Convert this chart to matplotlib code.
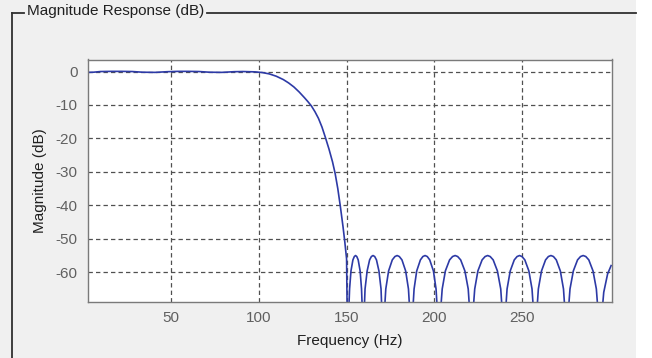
import matplotlib
matplotlib.use("Agg")
import matplotlib.pyplot as plt
from matplotlib.lines import Line2D
from matplotlib.patches import Rectangle

# Values (Hz, dB)
pass_f = [2.5, 6, 10, 16, 22, 28, 34, 41, 48, 54, 60, 66, 72, 79, 86, 91, 95]
pass_db = [-0.25, -0.2, 0.0, 0.05, 0.05, 0.0, -0.2, -0.25, -0.05, 0.05, 0.05, 0.0, -0.2, -0.25, -0.05, 0.0, -0.05]

trans_f = [98, 102, 106, 110, 114, 117, 120, 123, 126, 128, 130, 132, 134, 136, 138,
           140, 142, 143.5, 145, 146.5, 148, 149, 150, 150.8]
trans_db = [-0.1, -0.3, -0.7, -1.4, -2.4, -3.4, -4.6, -6.1, -7.8, -9.0, -10.3, -12.0, -14.0, -16.6, -19.8,
            -23.2, -27.0, -30.5, -35, -40.5, -46.5, -51, -56, -95]

stop_f = [
    151.2, 151.7, 152.5, 153.6, 154.4, 155.1, 155.8, 156.6, 157.7, 158.5, 159.0, 159.4,
    160.0, 160.5, 161.7, 163.1, 164.1, 165.05, 166.0, 167.0, 168.4, 169.6, 170.1, 170.7,
    171.5, 172.3, 173.9, 176.0, 177.5, 178.75, 180.0, 181.5, 183.6, 185.2, 186.0, 186.8,
    187.6, 188.4, 189.9, 192.0, 193.4, 194.65, 195.9, 197.3, 199.4, 200.9, 201.7, 202.5,
    203.4, 204.4, 206.2, 208.6, 210.3, 211.75, 213.2, 214.9, 217.3, 219.2, 220.1, 221.0,
    221.9, 222.9, 224.7, 227.1, 228.8, 230.25, 231.7, 233.4, 235.8, 237.7, 238.6, 239.5,
    240.4, 241.3, 243.1, 245.4, 247.0, 248.4, 249.8, 251.4, 253.7, 255.5, 256.4, 257.3,
    258.2, 259.1, 260.9, 263.2, 264.8, 266.25, 267.7, 269.3, 271.6, 273.4, 274.3, 275.2,
    276.1, 277.1, 279.0, 281.4, 283.1, 284.6, 286.1, 287.8, 290.2, 292.1, 293.1, 294.0,
    295.3, 296.3, 298.5, 300.5,
]
stop_db = [
    -72, -65, -59.6, -56.3, -55.3, -55, -55.3, -56.3, -59.6, -65, -72, -95,
    -72, -65, -59.6, -56.3, -55.3, -55, -55.3, -56.3, -59.6, -65, -72, -95,
    -72, -65, -59.6, -56.3, -55.3, -55, -55.3, -56.3, -59.6, -65, -72, -95,
    -72, -65, -59.6, -56.3, -55.3, -55, -55.3, -56.3, -59.6, -65, -72, -95,
    -72, -65, -59.6, -56.3, -55.3, -55, -55.3, -56.3, -59.6, -65, -72, -95,
    -72, -65, -59.6, -56.3, -55.3, -55, -55.3, -56.3, -59.6, -65, -72, -95,
    -72, -65, -59.6, -56.3, -55.3, -55, -55.3, -56.3, -59.6, -65, -72, -95,
    -72, -65, -59.6, -56.3, -55.3, -55, -55.3, -56.3, -59.6, -65, -72, -95,
    -72, -65, -59.6, -56.3, -55.3, -55, -55.3, -56.3, -59.6, -65, -72, -95,
    -72, -66, -60.5, -58,
]

x_ticks = [50, 100, 150, 200, 250]
y_ticks = [0, -10, -20, -30, -40, -50, -60]

plt.rcParams["font.family"] = ["Liberation Sans", "DejaVu Sans"]
plt.rcParams["axes.unicode_minus"] = False

W, H = 652, 358
fig = plt.figure(figsize=(W / 100, H / 100), dpi=100, facecolor="#f0f0f0")

# white strip on the right of the panel
fig.add_artist(Rectangle((636 / W, 0), 1, 1, transform=fig.transFigure,
                         facecolor="white", edgecolor="none", zorder=0))

# group box frame with title
def px(x, y):
    return x / W, 1 - y / H

frame_kw = dict(transform=fig.transFigure, color="#303030", lw=1.3)
x0, y0 = px(12, 13)
x1, y1 = px(12, 358)
fig.add_artist(Line2D([x0, x1], [y0, y1], **frame_kw))
fig.add_artist(Line2D([px(12, 13)[0], px(24, 13)[0]], [y0, y0], **frame_kw))
fig.add_artist(Line2D([px(207, 13)[0], px(636, 13)[0]], [y0, y0], **frame_kw))
tx, ty = px(27, 11)
fig.text(tx, ty, "Magnitude Response (dB)", fontsize=11, color="#202020",
         va="center", ha="left")

ax = fig.add_axes([87.5 / W, (H - 301.7) / H, (612 - 87.5) / W, (301.7 - 59.5) / H])
ax.set_facecolor("white")

freq = pass_f + trans_f + stop_f
mag = pass_db + trans_db + stop_db
ax.plot(freq, mag, color="#2d3aa6", lw=1.2)

ax.set_xlim(2.6, 301)
ax.set_ylim(-68.8, 3.6)
ax.set_xticks(x_ticks)
ax.set_yticks(y_ticks)
ax.grid(True, ls=(0, (3.5, 2.5)), color="#505050", lw=0.9)
ax.tick_params(length=0, labelsize=11, colors="#606060", pad=7)
for s in ax.spines.values():
    s.set_color("#7a7a7a")
    s.set_linewidth(1.0)

ax.set_xlabel("Frequency (Hz)", fontsize=11, color="#202020", labelpad=6)
ax.set_ylabel("Magnitude (dB)", fontsize=11, color="#202020", labelpad=6)

fig.savefig("out.png", dpi=100, facecolor=fig.get_facecolor())
